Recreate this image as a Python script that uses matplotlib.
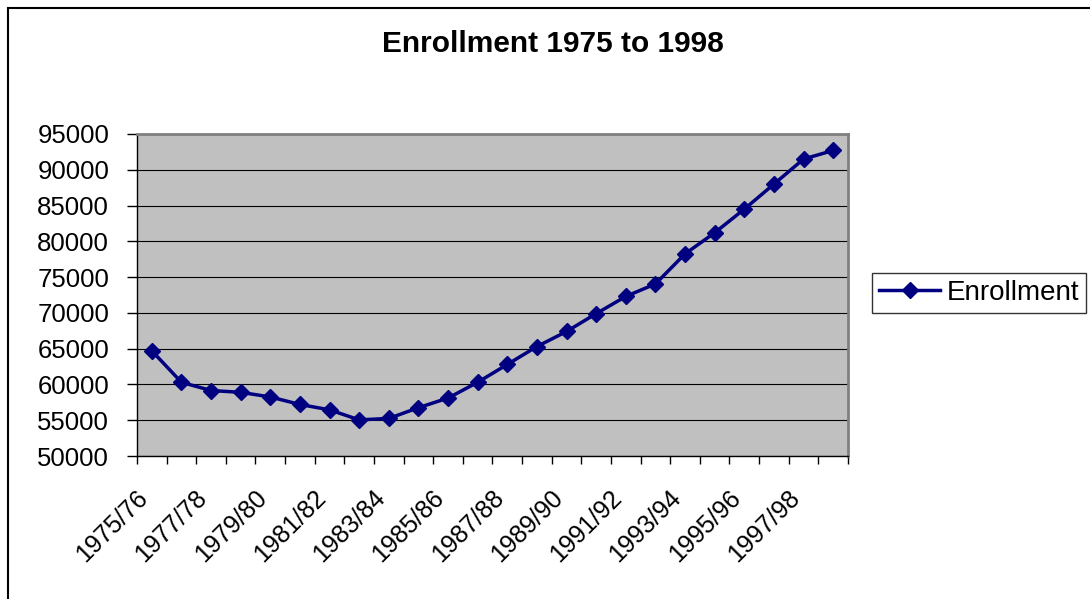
import matplotlib
matplotlib.use('Agg')
import matplotlib.pyplot as plt
from matplotlib.patches import Rectangle
from matplotlib.transforms import ScaledTranslation
import numpy as np

plt.rcParams['font.family'] = ['Liberation Sans', 'DejaVu Sans']

# school years and enrollment
years = ['1975/76', '1976/77', '1977/78', '1978/79', '1979/80', '1980/81',
         '1981/82', '1982/83', '1983/84', '1984/85', '1985/86', '1986/87',
         '1987/88', '1988/89', '1989/90', '1990/91', '1991/92', '1992/93',
         '1993/94', '1994/95', '1995/96', '1996/97', '1997/98', '1998/99']
enrollment = [64700, 60300, 59150, 58900, 58250, 57200, 56450, 55050,
              55250, 56750, 58100, 60300, 62800, 65300, 67400, 69900,
              72300, 74050, 78250, 81200, 84500, 88000, 91500, 92700]
y_ticks = [50000, 55000, 60000, 65000, 70000, 75000, 80000, 85000, 90000, 95000]

W, H = 1090, 599
fig = plt.figure(figsize=(W / 100, H / 100), dpi=100)
ax = fig.add_axes([137 / W, 1 - 456 / H, 711 / W, 322 / H])

n = len(years)
x = np.arange(n) + 0.5

ax.set_facecolor('#C0C0C0')
ax.plot(x, enrollment, color='#000080', lw=2.5, marker='D', markersize=8.5,
        markerfacecolor='#000080', markeredgecolor='#000080', label='Enrollment',
        zorder=3)

ax.set_xlim(0, n)
ax.set_ylim(50000, 95000)
ax.set_yticks(y_ticks)
ax.set_yticklabels([str(v) for v in y_ticks], fontsize=18.5)
ax.yaxis.grid(True, color='black', lw=0.8)
ax.set_axisbelow(True)

# tick marks at category boundaries, labels at every other category centre
ax.set_xticks(np.arange(n + 1))
ax.set_xticklabels([])
ax.set_xticks(x[::2], minor=True)
ax.set_xticklabels(years[::2], minor=True, rotation=45, ha='right', va='top',
                   rotation_mode='anchor', fontsize=18)
ax.tick_params(axis='x', which='minor', length=0, pad=14)
ax.tick_params(axis='x', which='major', length=6, width=1, direction='out')
ax.tick_params(axis='y', length=7, width=1, direction='out', pad=13)
shift = ScaledTranslation(-16 / 100, -10 / 100, fig.dpi_scale_trans)
for lab in ax.get_xticklabels(minor=True):
    lab.set_transform(lab.get_transform() + shift)

for s in ['top', 'right']:
    ax.spines[s].set_color('#808080')
    ax.spines[s].set_linewidth(2)
for s in ['left', 'bottom']:
    ax.spines[s].set_color('black')
    ax.spines[s].set_linewidth(1)

fig.text(553 / W, 1 - 52 / H, 'Enrollment 1975 to 1998', ha='center',
         va='baseline', fontsize=21.5, fontweight='bold')

leg = fig.legend(loc='upper left', bbox_to_anchor=(872 / W, 1 - 273 / H),
                 bbox_transform=fig.transFigure, fontsize=20, frameon=True,
                 fancybox=False, borderaxespad=0, borderpad=0.25,
                 handlelength=2.2, handletextpad=0.25)
leg.get_frame().set_edgecolor('black')
leg.get_frame().set_linewidth(1)

# outer chart border
fig.patches.append(Rectangle((8 / W, -0.1), 1.2, 1 - 8 / H + 0.1,
                             transform=fig.transFigure, fill=False,
                             ec='black', lw=1.5))

fig.savefig('out.png', dpi=100)
